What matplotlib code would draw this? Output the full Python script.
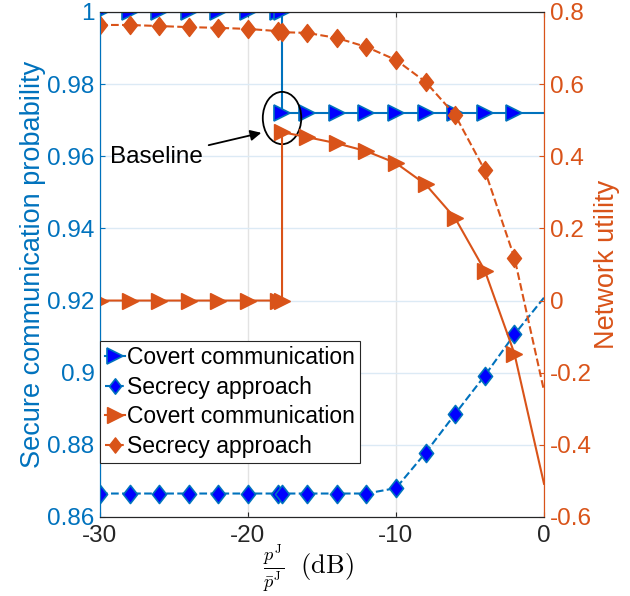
import matplotlib
matplotlib.use("Agg")
import matplotlib.pyplot as plt
from matplotlib.patches import Ellipse
from matplotlib.path import Path

plt.rcParams['font.family'] = ['Liberation Sans', 'DejaVu Sans']
plt.rcParams['mathtext.fontset'] = 'cm'
plt.rcParams['axes.unicode_minus'] = False

# data
x_cov = [-30, -28, -26, -24, -22, -20, -18, -17.7, -17.7, -16, -14, -12, -10, -8, -6, -4, -2, 0]
prob_cov = [1, 1, 1, 1, 1, 1, 1, 1, 0.972, 0.972, 0.972, 0.972, 0.972, 0.972, 0.972, 0.972, 0.972, 0.972]
util_cov = [0, 0, 0, 0, 0, 0, 0, 0, 0.467, 0.453, 0.436, 0.414, 0.381, 0.322, 0.228, 0.083, -0.147, -0.508]

x_sec = [-30, -28, -26, -24, -22, -20, -18, -17.7, -16, -14, -12, -10, -8, -6, -4, -2, 0]
prob_sec = [0.8665, 0.8665, 0.8665, 0.8665, 0.8665, 0.8665, 0.8665, 0.8665, 0.8665, 0.8665, 0.8665,
            0.868, 0.8778, 0.8886, 0.8992, 0.9106, 0.9208]
util_sec = [0.764, 0.764, 0.761, 0.758, 0.756, 0.753, 0.747, 0.744, 0.742, 0.728, 0.703,
            0.667, 0.606, 0.514, 0.361, 0.119, -0.25]

blue = '#0072BD'
orange = '#D95319'
dark = '#262626'

# MATLAB style diamond, a bit taller than wide
diamond = Path([(0, 1), (0.78, 0), (0, -1), (-0.78, 0), (0, 1)],
               [Path.MOVETO, Path.LINETO, Path.LINETO, Path.LINETO, Path.CLOSEPOLY])

fig = plt.figure(figsize=(6.3, 5.96), dpi=100)
ax1 = fig.add_axes([0.1587, 0.1326, 0.7048, 0.8473])
ax2 = ax1.twinx()

mk_cov = list(range(len(x_cov) - 1))
mk_sec = list(range(len(x_sec) - 1))

h1, = ax1.plot(x_cov, prob_cov, '-', color=blue, lw=1.5, marker='>', ms=11,
               mfc='blue', mec=blue, mew=1.2, markevery=mk_cov, label='Covert communication')
h2, = ax1.plot(x_sec, prob_sec, '--', color=blue, lw=1.5, marker=diamond, ms=13,
               mfc='blue', mec=blue, mew=1.2, markevery=mk_sec, label='Secrecy approach')
h3, = ax2.plot(x_cov, util_cov, '-', color=orange, lw=1.5, marker='>', ms=11,
               mfc=orange, mec=orange, markevery=mk_cov, label='Covert communication')
h4, = ax2.plot(x_sec, util_sec, '--', color=orange, lw=1.5, marker=diamond, ms=13,
               mfc=orange, mec=orange, markevery=mk_sec, label='Secrecy approach')

ax1.set_xlim(-30, 0)
ax1.set_ylim(0.86, 1)
ax2.set_ylim(-0.6, 0.8)
ax1.set_xticks([-30, -20, -10, 0])
ax1.set_yticks([0.86, 0.88, 0.9, 0.92, 0.94, 0.96, 0.98, 1])
ax1.set_yticklabels(['0.86', '0.88', '0.9', '0.92', '0.94', '0.96', '0.98', '1'])
ax2.set_yticks([-0.6, -0.4, -0.2, 0, 0.2, 0.4, 0.6, 0.8])
ax2.set_yticklabels(['-0.6', '-0.4', '-0.2', '0', '0.2', '0.4', '0.6', '0.8'])

ax1.grid(axis='x', color='#e3e3e3', lw=1)
ax1.grid(axis='y', color='#dceaf5', lw=1)
ax1.set_axisbelow(True)

ax1.tick_params(axis='x', direction='in', top=True, colors=dark, labelsize=17.5, pad=6)
ax1.tick_params(axis='y', direction='in', colors=blue, labelsize=17.5, right=False, pad=4)
ax2.tick_params(axis='y', direction='in', colors=orange, labelsize=17.5, pad=4)
for ax in (ax1, ax2):
    ax.spines['left'].set_color(blue)
    ax.spines['right'].set_color(orange)
    ax.spines['top'].set_color(dark)
    ax.spines['bottom'].set_color(dark)

ax1.set_ylabel('Secure communication probability', color=blue, fontsize=19.5, labelpad=1)
ax2.set_ylabel('Network utility', color=orange, fontsize=19.5, labelpad=2)
ax1.set_xlabel(r'$\frac{p^{\mathrm{J}}}{\bar{p}^{\mathrm{J}}}\ \ (\mathrm{dB})$', fontsize=19)
ax1.xaxis.set_label_coords(0.47, -0.05)

# baseline annotation
ax1.add_patch(Ellipse((-17.7, 0.9706), 2.6, 0.0145, fill=False, ec='black', lw=1.3, zorder=5))
ax1.annotate('Baseline', xy=(-19.1, 0.9665), xytext=(-29.3, 0.9597),
             fontsize=17.5, va='center', ha='left', zorder=5,
             arrowprops=dict(arrowstyle='-|>', color='black', lw=1.3, mutation_scale=16,
                             shrinkA=2, shrinkB=0))

leg = ax2.legend([h1, h2, h3, h4], [h.get_label() for h in (h1, h2, h3, h4)],
                 loc='lower left', bbox_to_anchor=(0.0, 0.107), fontsize=16.5,
                 fancybox=False, edgecolor=dark, framealpha=1, handlelength=0.9,
                 handletextpad=0.1, borderpad=0.2, labelspacing=0.3, borderaxespad=0)
leg.get_frame().set_linewidth(0.8)
for lh in leg.legend_handles:
    lh.set_markersize(11)

fig.savefig('out.png', dpi=100)
